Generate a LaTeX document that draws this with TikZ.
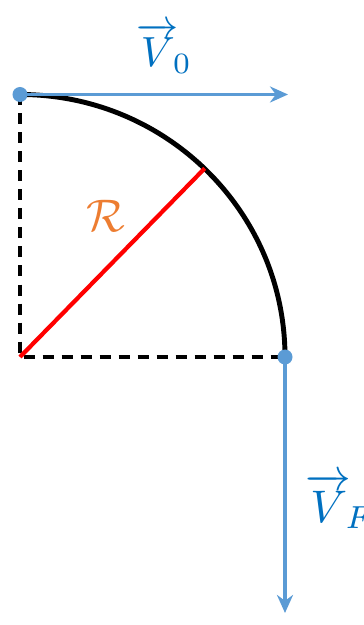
\documentclass[tikz,border=0pt]{standalone}
\usetikzlibrary{arrows.meta}
\usepackage{amsmath}
\definecolor{lineblue}{RGB}{91,155,213}
\definecolor{inkblue}{RGB}{0,112,192}
\definecolor{inkorange}{RGB}{237,125,49}

\begin{document}
\begin{tikzpicture}[line width=0.8pt,>=Stealth]
\useasboundingbox (-0.4,-5.36) rectangle (6.86,7.14);
% 圆心与两端点
\coordinate (O) at (0,0);
\coordinate (A) at (0,5.25);
\coordinate (B) at (5.3,0);
\coordinate (P) at (45.6:5.28);
% 虚线半径
\draw[line width=2pt,dash pattern=on 0.22cm off 0.16cm] (A) -- (O) -- (B);
% 四分之一圆弧
\draw[line width=2.8pt] (A) arc[start angle=90,end angle=0,x radius=5.3,y radius=5.25];
% 半径 R
\draw[red,line width=2.4pt] (O) -- (P);
\node[text=inkorange,scale=2.6] (labR) at (1.72,2.82) {$\mathcal{R}$};
% 速度箭头
\coordinate (vA) at (5.36,5.25);
\coordinate (vB) at (5.3,-5.12);
\draw[lineblue,line width=1.8pt,-{Stealth[length=0.36cm,width=0.32cm]}] (A) -- (vA);
\draw[lineblue,line width=1.8pt,-{Stealth[length=0.36cm,width=0.32cm]}] (B) -- (vB);
\fill[lineblue] (A) circle (0.15);
\fill[lineblue] (B) circle (0.15);
% 速度标签
\node[text=inkblue,scale=2.4,anchor=base west,inner sep=0pt] (labV0) at (2.3,5.8) {$\overrightarrow{V}_{\!0}$};
\node[text=inkblue,scale=2.6,anchor=base west,inner sep=0pt] (labVF) at (5.68,-3.3) {$\overrightarrow{V}_{\!F}$};
\end{tikzpicture}
\end{document}
